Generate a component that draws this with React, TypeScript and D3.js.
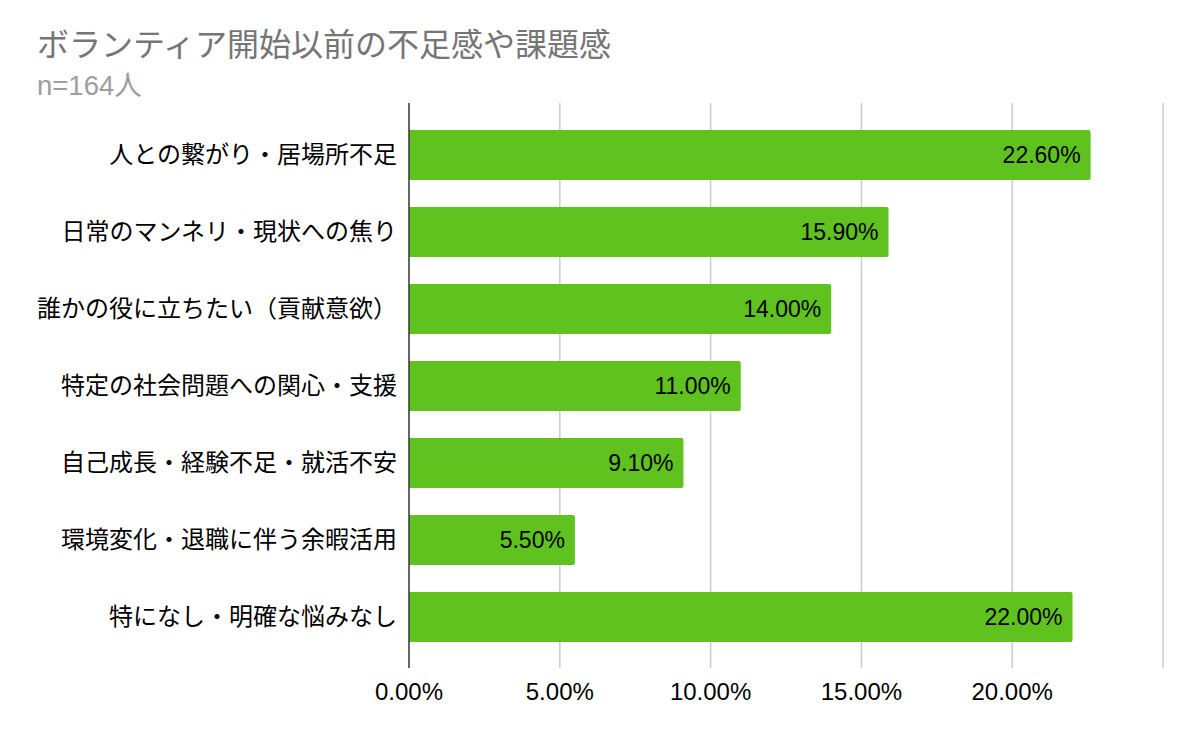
import { useRef, useEffect } from 'react';
import * as d3 from 'd3';

const categories = [
  '人との繋がり・居場所不足',
  '日常のマンネリ・現状への焦り',
  '誰かの役に立ちたい（貢献意欲）',
  '特定の社会問題への関心・支援',
  '自己成長・経験不足・就活不安',
  '環境変化・退職に伴う余暇活用',
  '特になし・明確な悩みなし',
];
const values = [22.6, 15.9, 14.0, 11.0, 9.1, 5.5, 22.0];
const ticks = [0, 5, 10, 15, 20, 25];

const CJK = "'Noto Sans CJK JP', sans-serif";
const NUM = "'Liberation Sans', Arial, 'Noto Sans CJK JP', sans-serif";

const App = () => {
  const svgRef = useRef<SVGSVGElement>(null);

  useEffect(() => {
    if (!svgRef.current) return;
    const svg = d3.select(svgRef.current);
    svg.selectAll('*').remove();

    const left = 409;
    const right = 1163;
    const top = 103;
    const bottom = 668;

    const x = d3.scaleLinear().domain([0, 25]).range([left, right]);
    const y = d3.scaleBand<string>()
      .domain(categories)
      .range([116.5, 655.5])
      .paddingInner(0.35)
      .paddingOuter(0.175);

    svg.append('rect').attr('width', 1200).attr('height', 742).attr('fill', '#fff');

    // title
    svg.append('text')
      .attr('x', 37).attr('y', 56)
      .attr('font-size', 32)
      .attr('fill', '#757575')
      .attr('font-family', CJK)
      .text('ボランティア開始以前の不足感や課題感');
    svg.append('text')
      .attr('x', 37).attr('y', 95)
      .attr('font-size', 27.5)
      .attr('fill', '#9e9e9e')
      .attr('font-family', NUM)
      .text('n=164人');

    // grid
    svg.append('g')
      .selectAll('line')
      .data(ticks.slice(1))
      .enter()
      .append('line')
      .attr('x1', d => x(d)).attr('x2', d => x(d))
      .attr('y1', top).attr('y2', bottom)
      .attr('stroke', '#cccccc')
      .attr('stroke-width', 1.5);

    // bars
    svg.append('g')
      .selectAll('path')
      .data(values)
      .enter()
      .append('path')
      .attr('d', (d, i) => {
        const y0 = y(categories[i])!;
        const h = y.bandwidth();
        const x0 = x(0);
        const x1 = x(d);
        const r = 2;
        return `M${x0},${y0}H${x1 - r}Q${x1},${y0} ${x1},${y0 + r}V${y0 + h - r}Q${x1},${y0 + h} ${x1 - r},${y0 + h}H${x0}Z`;
      })
      .attr('fill', '#5fc21f');

    // value labels
    svg.append('g')
      .selectAll('text')
      .data(values)
      .enter()
      .append('text')
      .attr('x', d => x(d) - 10)
      .attr('y', (d, i) => y(categories[i])! + y.bandwidth() / 2)
      .attr('dy', '0.35em')
      .attr('text-anchor', 'end')
      .attr('font-size', 23)
      .attr('fill', '#000')
      .attr('font-family', NUM)
      .text(d => `${d.toFixed(2)}%`);

    // category labels
    svg.append('g')
      .selectAll('text')
      .data(categories)
      .enter()
      .append('text')
      .attr('x', 397)
      .attr('y', d => y(d)! + y.bandwidth() / 2)
      .attr('dy', '0.35em')
      .attr('text-anchor', 'end')
      .attr('font-size', 24)
      .attr('fill', '#000')
      .attr('font-family', CJK)
      .text(d => d);

    // axis line
    svg.append('line')
      .attr('x1', left).attr('x2', left)
      .attr('y1', top).attr('y2', bottom)
      .attr('stroke', '#333')
      .attr('stroke-width', 1.5);

    // tick labels
    svg.append('g')
      .selectAll('text')
      .data(ticks.slice(0, 5))
      .enter()
      .append('text')
      .attr('x', d => x(d))
      .attr('y', 700)
      .attr('text-anchor', 'middle')
      .attr('font-size', 24)
      .attr('fill', '#000')
      .attr('font-family', NUM)
      .text(d => `${d.toFixed(2)}%`);
  }, []);

  return (
    <svg
      ref={svgRef}
      width={1200}
      height={742}
      style={{ position: 'absolute', left: 0, top: 0 }}
    />
  );
};

export default App;
